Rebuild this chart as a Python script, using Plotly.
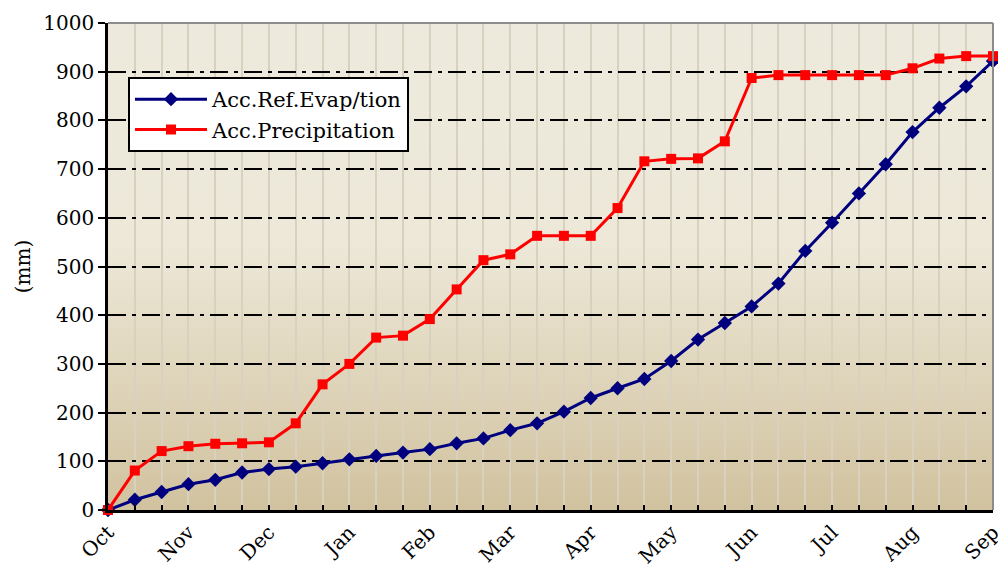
import plotly.graph_objects as go
import urllib.parse

# ---- data ----
months = ["Oct", "Nov", "Dec", "Jan", "Feb", "Mar", "Apr", "May", "Jun", "Jul", "Aug", "Sep"]
evap = [0, 21, 37, 53, 62, 77, 84, 89, 96, 104, 111, 118, 125, 137, 147, 164, 178, 202,
        230, 250, 269, 306, 350, 384, 418, 465, 532, 590, 650, 710, 776, 826, 870, 922]
precip = [0, 81, 121, 131, 136, 137, 139, 178, 258, 300, 354, 358, 392, 453, 513, 525, 563, 563,
          563, 620, 716, 721, 722, 757, 887, 893, 893, 893, 893, 893, 907, 927, 932, 932]

x = list(range(len(evap)))
tickvals = x
ticktext = [months[i // 3] if i % 3 == 0 else "" for i in x]

FONT = "DejaVu Serif"

fig = go.Figure()
fig.add_trace(go.Scatter(
    x=x, y=evap, name="Acc.Ref.Evap/tion", mode="lines+markers",
    line=dict(color="#00007F", width=3),
    marker=dict(symbol="diamond", size=11, color="#00007F"),
    cliponaxis=False,
))
fig.add_trace(go.Scatter(
    x=x, y=precip, name="Acc.Precipitation", mode="lines+markers",
    line=dict(color="#FF0000", width=3),
    marker=dict(symbol="square", size=10, color="#FF0000"),
    cliponaxis=False,
))

svg = ('<svg xmlns="http://www.w3.org/2000/svg" width="100" height="100" preserveAspectRatio="none">'
       '<defs><linearGradient id="g" x1="0" y1="0" x2="0" y2="1">'
       '<stop offset="0" stop-color="#EDEADD"/>'
       '<stop offset="0.45" stop-color="#EDE8D8"/>'
       '<stop offset="1" stop-color="#D1C29F"/>'
       '</linearGradient></defs>'
       '<rect width="100" height="100" fill="url(#g)"/></svg>')
src = "data:image/svg+xml;charset=utf-8," + urllib.parse.quote(svg)

fig.update_layout(
    width=998, height=571,
    margin=dict(l=108, r=5, t=23, b=61, autoexpand=False),
    paper_bgcolor="white",
    plot_bgcolor="rgba(0,0,0,0)",
    font=dict(family=FONT, size=20, color="black"),
    images=[dict(source=src, xref="paper", yref="paper", x=0, y=1, sizex=1, sizey=1,
                 sizing="stretch", layer="below", xanchor="left", yanchor="top")],
    legend=dict(
        x=0.0226, y=0.889, xanchor="left", yanchor="top",
        bgcolor="white", bordercolor="black", borderwidth=2,
        font=dict(family=FONT, size=21), tracegroupgap=0,
        itemwidth=72,
    ),
    xaxis=dict(
        range=[0, 33], tickmode="array", tickvals=tickvals, ticktext=ticktext,
        tickangle=-45, ticks="inside", ticklen=5, tickwidth=1.5, tickcolor="black",
        showgrid=True, gridcolor="#D8D1C0", gridwidth=1.5,
        showline=True, linecolor="black", linewidth=2.5,
        zeroline=False, tickfont=dict(family=FONT, size=20), automargin=False,
        ticklabeloverflow="allow",
    ),
    yaxis=dict(
        range=[0, 1000], tickmode="linear", tick0=0, dtick=100,
        ticks="outside", ticklen=7, tickwidth=1.5, tickcolor="black",
        showgrid=True, gridcolor="black", gridwidth=1.5, griddash="18px,6px,4px,6px",
        showline=True, linecolor="black", linewidth=2.5, zeroline=False,
        tickfont=dict(family=FONT, size=20), automargin=False,
        title=dict(text="(mm)", font=dict(family=FONT, size=20), standoff=8),
    ),
    shapes=[
        dict(type="line", xref="paper", yref="paper", x0=0, x1=1, y0=1, y1=1,
             line=dict(color="#8C8C8C", width=2), layer="above"),
        dict(type="line", xref="paper", yref="paper", x0=1, x1=1, y0=0, y1=1,
             line=dict(color="#8C8C8C", width=2), layer="above"),
    ],
)

fig.write_html("out.html", config={"displayModeBar": False},
               post_script="document.body.style.margin='0';document.body.style.overflow='hidden';")
